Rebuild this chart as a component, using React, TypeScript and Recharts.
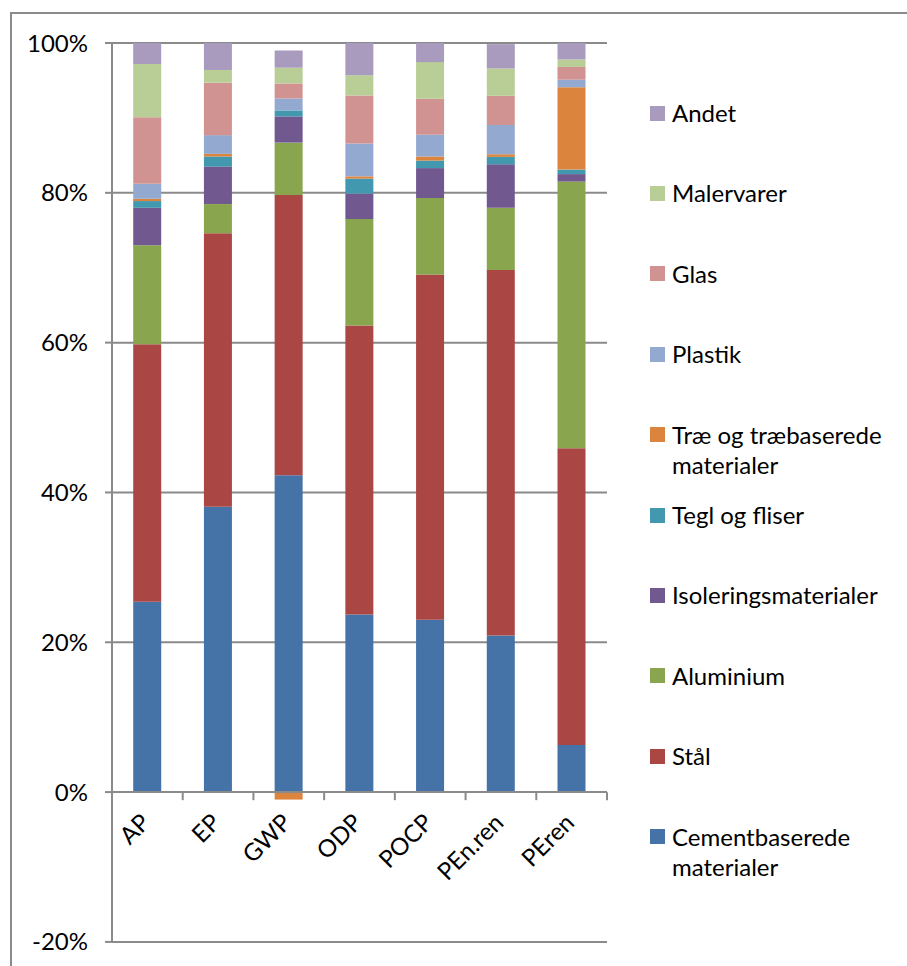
import React from 'react';
import { BarChart, Bar, XAxis, YAxis, CartesianGrid, ReferenceLine } from 'recharts';

const categories = ['AP', 'EP', 'GWP', 'ODP', 'POCP', 'PEn.ren', 'PEren'];

const cement = [25.4, 38.1, 42.3, 23.7, 23.0, 20.9, 6.3];
const staal = [34.4, 36.5, 37.4, 38.6, 46.1, 48.8, 39.6];
const aluminium = [13.2, 3.9, 7.0, 14.2, 10.2, 8.3, 35.6];
const isolering = [5.0, 5.0, 3.5, 3.4, 4.0, 5.8, 1.0];
const tegl = [0.9, 1.35, 0.8, 2.0, 1.0, 1.0, 0.6];
const trae = [0.3, 0.35, -1.0, 0.3, 0.55, 0.35, 11.0];
const plastik = [2.0, 2.5, 1.6, 4.4, 2.9, 3.9, 1.0];
const glas = [8.9, 7.0, 2.0, 6.4, 4.8, 3.9, 1.7];
const malervarer = [7.1, 1.7, 2.1, 2.7, 4.9, 3.65, 1.0];
const andet = [2.8, 3.6, 2.3, 4.3, 2.55, 3.25, 2.2];

const yTicks = [-20, 0, 20, 40, 60, 80, 100];

// bottom of the stack first
const series = [
  { key: 'cement', name: 'Cementbaserede materialer', color: '#4572A7', values: cement },
  { key: 'staal', name: 'Stål', color: '#AA4643', values: staal },
  { key: 'aluminium', name: 'Aluminium', color: '#89A54E', values: aluminium },
  { key: 'isolering', name: 'Isoleringsmaterialer', color: '#71588F', values: isolering },
  { key: 'tegl', name: 'Tegl og fliser', color: '#4198AF', values: tegl },
  { key: 'trae', name: 'Træ og træbaserede materialer', color: '#DB843D', values: trae },
  { key: 'plastik', name: 'Plastik', color: '#93A9CF', values: plastik },
  { key: 'glas', name: 'Glas', color: '#D19392', values: glas },
  { key: 'malervarer', name: 'Malervarer', color: '#B9CD96', values: malervarer },
  { key: 'andet', name: 'Andet', color: '#A99BBD', values: andet },
];

const data = categories.map((name, i) => {
  const row: Record<string, any> = { name };
  series.forEach((s) => { row[s.key] = s.values[i]; });
  return row;
});

const FONT = 'Lato, "Open Sans", sans-serif';
const FS = 24;
const GRID = '#8a8a8a';
const W = 907;
const H = 966;
const M = { top: 43, right: 300, bottom: 24, left: 0 };
const Y_AXIS_W = 112;
const PLOT_W = W - M.left - M.right - Y_AXIS_W;
const PLOT_H = H - M.top - M.bottom;
const ZERO_Y = M.top + (PLOT_H * 100) / 120;

const XTick = (props: any) => {
  const { x, payload, index } = props;
  const band = PLOT_W / categories.length;
  return (
    <g>
      <line x1={x - band / 2} y1={ZERO_Y} x2={x - band / 2} y2={ZERO_Y + 8} stroke={GRID} strokeWidth={2} />
      {index === categories.length - 1 && (
        <line x1={x + band / 2} y1={ZERO_Y} x2={x + band / 2} y2={ZERO_Y + 8} stroke={GRID} strokeWidth={2} />
      )}
      <text
        transform={`translate(${x + 4},${ZERO_Y + 32}) rotate(-45)`}
        textAnchor="end"
        fontFamily={FONT}
        fontSize={FS}
        fill="#000"
      >
        {payload.value}
      </text>
    </g>
  );
};

const LegendBox = () => (
  <div style={{ position: 'absolute', left: 650, top: 0, fontFamily: FONT, fontSize: FS, color: '#000' }}>
    {[...series].reverse().map((s, i) => (
      <div key={s.key} style={{ position: 'absolute', top: 113 + i * 80.4 - 15, left: 0, width: 255, lineHeight: '30px' }}>
        <span style={{ position: 'absolute', left: 0, top: 7.5, width: 15, height: 15, background: s.color }} />
        <div style={{ marginLeft: 22, width: 235 }}>{s.name}</div>
      </div>
    ))}
  </div>
);

export default function App() {
  return (
    <div style={{ position: 'absolute', left: 0, top: 0, width: W, height: H, overflow: 'hidden', background: '#fff' }}>
      <div style={{ position: 'absolute', left: 10, top: 12, width: 920, height: 980, border: '2px solid #8a8a8a' }} />
      <div style={{ position: 'absolute', left: 0, top: 0 }}>
        <BarChart width={W} height={H} data={data} margin={M} stackOffset="sign" barCategoryGap="30%">
          <CartesianGrid vertical={false} stroke={GRID} strokeWidth={2} />
          <XAxis dataKey="name" interval={0} axisLine={false} tickLine={false} height={0.1} tick={<XTick />} />
          <YAxis
            width={Y_AXIS_W}
            domain={[-20, 100]}
            ticks={yTicks}
            interval={0}
            tickFormatter={(v: number) => `${v}%`}
            axisLine={{ stroke: GRID, strokeWidth: 2 }}
            tickLine={{ stroke: GRID, strokeWidth: 2 }}
            tickSize={7}
            tickMargin={17}
            tick={{ fontFamily: FONT, fontSize: FS, fill: '#000' }}
          />
          <ReferenceLine y={0} stroke={GRID} strokeWidth={2} />
          {series.map((s) => (
            <Bar key={s.key} dataKey={s.key} name={s.name} stackId="a" fill={s.color} isAnimationActive={false} />
          ))}
        </BarChart>
      </div>
      <LegendBox />
    </div>
  );
}
